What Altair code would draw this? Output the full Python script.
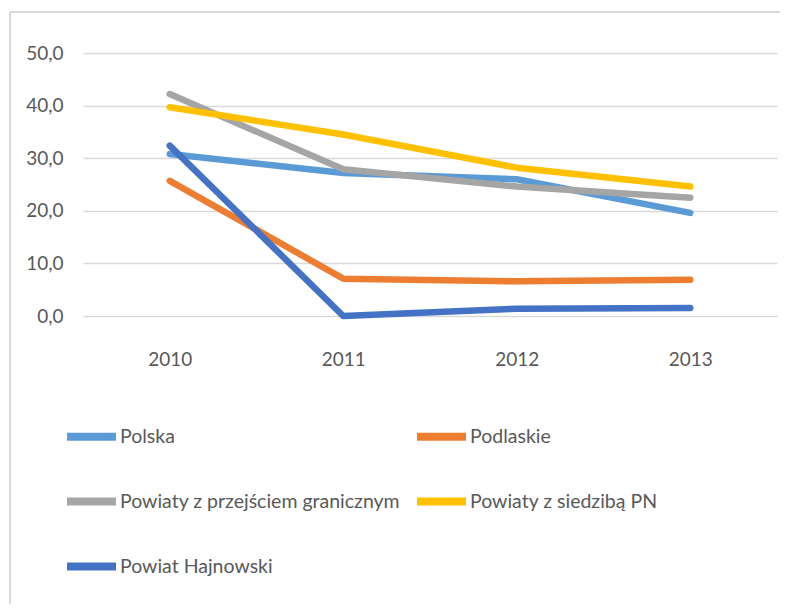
import altair as alt
import pandas as pd

years = ["2010", "2011", "2012", "2013"]
series = [
    "Polska",
    "Podlaskie",
    "Powiaty z przejściem granicznym",
    "Powiaty z siedzibą PN",
    "Powiat Hajnowski",
]
polska = [30.8, 27.2, 26.0, 19.6]
podlaskie = [25.7, 7.1, 6.6, 6.9]
przejscie = [42.2, 27.9, 24.6, 22.5]
siedziba = [39.7, 34.5, 28.2, 24.6]
hajnowski = [32.4, 0.0, 1.4, 1.5]
colors = ["#5B9BD5", "#ED7D31", "#A5A5A5", "#FFC000", "#4472C4"]

values = [polska, podlaskie, przejscie, siedziba, hajnowski]
rows = []
for name, vals in zip(series, values):
    for y, v in zip(years, vals):
        rows.append({"Rok": y, "Seria": name, "Wartosc": v, "order": series.index(name)})
df = pd.DataFrame(rows)

FONT = "Lato"
TXT = "#595959"

lines = alt.Chart(df).mark_line(strokeWidth=6.5, strokeCap="round", strokeJoin="round").encode(
    x=alt.X("Rok:O", sort=years, scale=alt.Scale(type="point", padding=0.5),
            axis=alt.Axis(title=None, labelAngle=0, domain=False, ticks=False,
                          labelPadding=34, labelFontSize=19, labelFont=FONT, labelColor=TXT)),
    y=alt.Y("Wartosc:Q", scale=alt.Scale(domain=[0, 50], nice=False),
            axis=alt.Axis(title=None, values=[0, 10, 20, 30, 40, 50], domain=False, ticks=False,
                          labelPadding=20, labelFontSize=19, labelFont=FONT, labelColor=TXT,
                          gridColor="#d9d9d9", gridWidth=1.6,
                          labelExpr="replace(format(datum.value, '.1f'), '.', ',')")),
    color=alt.Color("Seria:N", scale=alt.Scale(domain=series, range=colors),
                    legend=alt.Legend(title=None, orient="none", legendX=-20, legendY=355,
                                      columns=2, direction="horizontal",
                                      symbolType="stroke", symbolSize=2400, symbolStrokeWidth=8,
                                      labelFontSize=19.5, labelFont=FONT, labelColor=TXT,
                                      labelOffset=0, labelLimit=400,
                                      columnPadding=0, rowPadding=20, gridAlign="all")),
    order=alt.Order("order:Q"),
    detail="Seria:N",
)

frame_df = pd.DataFrame({"a": [0]})
left_rule = alt.Chart(frame_df).mark_rule(color="#d9d9d9", strokeWidth=2).encode(
    x=alt.value(-73), y=alt.value(-41), y2=alt.value(570))
top_rule = alt.Chart(frame_df).mark_rule(color="#d9d9d9", strokeWidth=2).encode(
    x=alt.value(-73), x2=alt.value(720), y=alt.value(-41))

chart = alt.layer(left_rule, top_rule, lines).properties(
    width=694, height=263,
    autosize=alt.AutoSizeParams(type="none"),
    padding={"left": 75, "top": 45, "right": 3, "bottom": 288},
    background="white",
).configure_view(stroke=None)

chart.save("out.html", embed_options={"renderer": "svg", "actions": False})
